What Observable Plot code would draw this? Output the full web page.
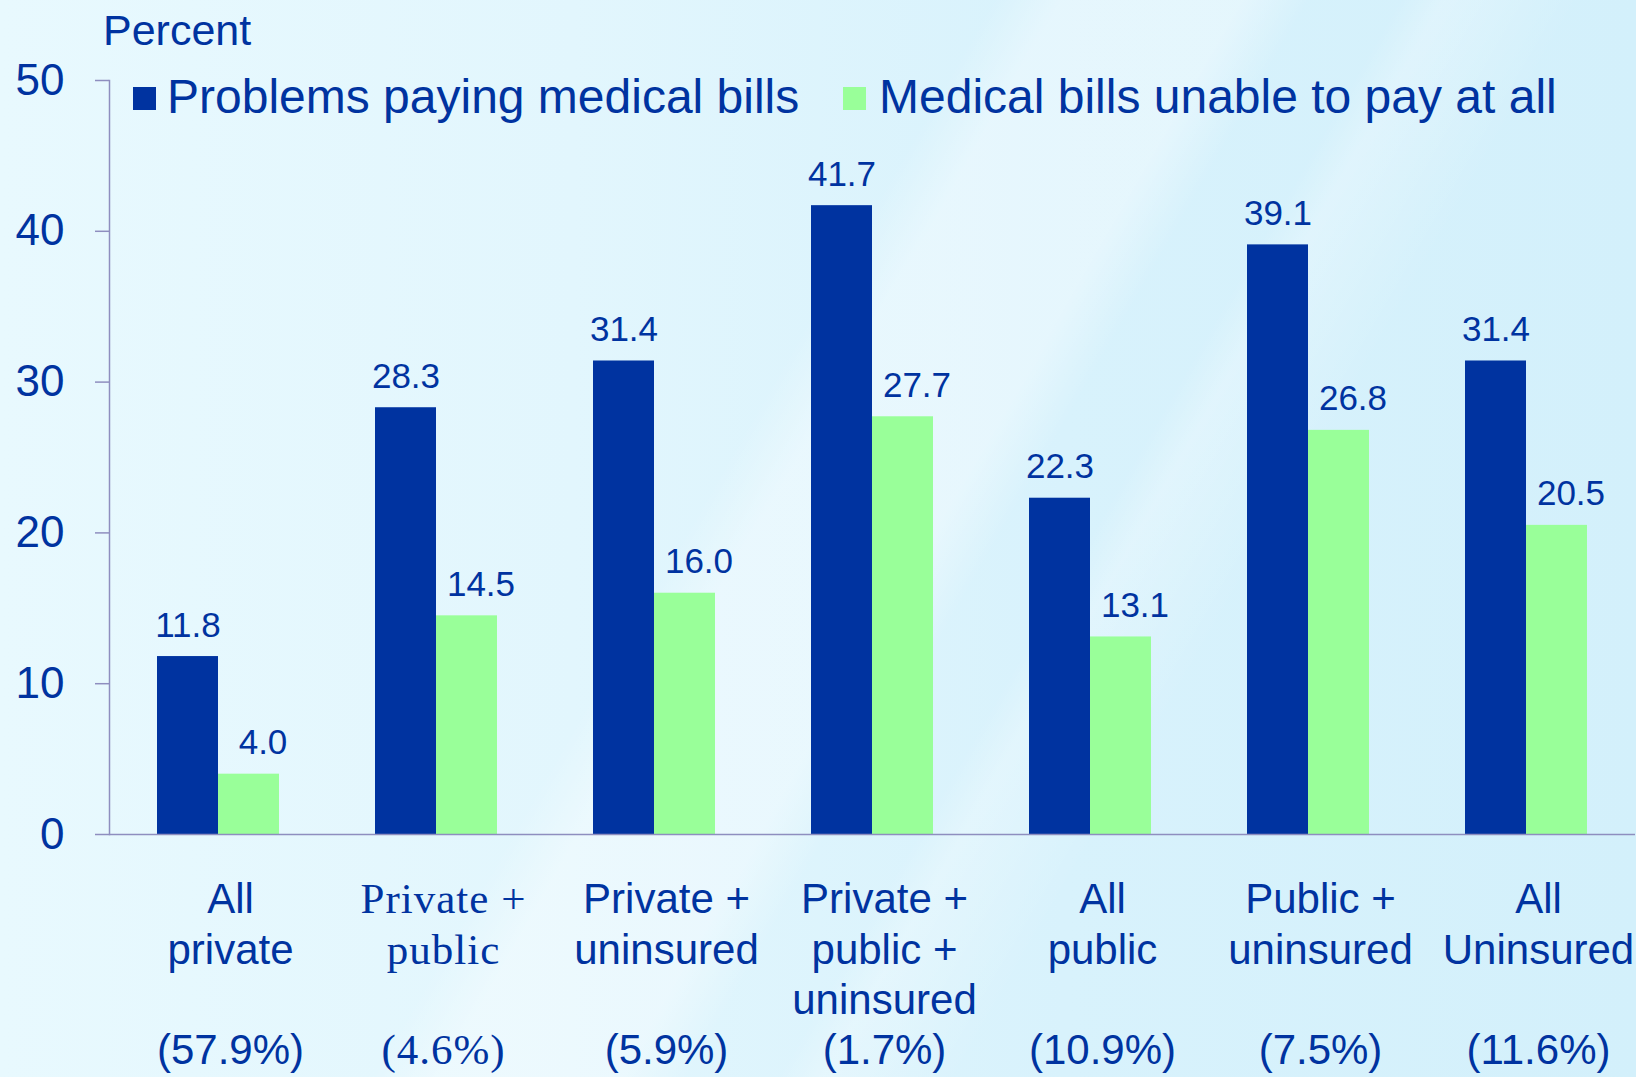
<!DOCTYPE html>
<html>
<head>
<meta charset="utf-8">
<script src="https://cdn.jsdelivr.net/npm/d3@7"></script>
<script src="https://cdn.jsdelivr.net/npm/@observablehq/plot@0.6"></script>
<style>
  html, body { margin: 0; padding: 0; }
  body {
    width: 1636px; height: 1077px; overflow: hidden; position: relative;
    font-family: "Liberation Sans", Arial, sans-serif;
    background:
      linear-gradient(120deg, rgba(255,255,255,0) 0%, rgba(255,255,255,0) 44%, rgba(255,255,255,0.35) 47%, rgba(255,255,255,0.35) 55%, rgba(255,255,255,0) 58%, rgba(255,255,255,0) 100%),
      linear-gradient(120deg, rgba(255,255,255,0) 0%, rgba(255,255,255,0) 62%, rgba(255,255,255,0.25) 64%, rgba(255,255,255,0) 70%, rgba(255,255,255,0) 100%),
      linear-gradient(90deg, #e8f9fe 0%, #e2f6fd 35%, #d8f2fc 65%, #d3f0fb 100%);
  }
  #chart { position: absolute; left: 0; top: 0; }
  .overlay { position: absolute; color: #0033a0; line-height: 1; white-space: nowrap; }
  #ylabel { left: 103px; top: 9px; font-size: 43px; }
  .swatch { position: absolute; width: 23px; height: 23px; }
  .legtext { font-size: 48px; }
  .serif-axis text { letter-spacing: 1px; }
</style>
</head>
<body>
<div id="chart"></div>
<div id="ylabel" class="overlay">Percent</div>
<div id="legend"></div>
<script>
// ---- data ----
const categories = [
  "All\nprivate",
  "Private +\npublic",
  "Private +\nuninsured",
  "Private +\npublic +\nuninsured",
  "All\npublic",
  "Public +\nuninsured",
  "All\nUninsured"
];
const populationShares = ["57.9%", "4.6%", "5.9%", "1.7%", "10.9%", "7.5%", "11.6%"];
const problemsPaying = [11.8, 28.3, 31.4, 41.7, 22.3, 39.1, 31.4];
const unableToPayAtAll = [4.0, 14.5, 16.0, 27.7, 13.1, 26.8, 20.5];
const seriesNames = ["Problems paying medical bills", "Medical bills unable to pay at all"];
const seriesColors = ["#0033a0", "#99ff99"];
const yTicks = [0, 10, 20, 30, 40, 50];
const serifCategories = ["Private +\npublic"];

// ---- table ----
const data = categories.flatMap((c, i) => [
  {category: c, series: seriesNames[0], value: problemsPaying[i]},
  {category: c, series: seriesNames[1], value: unableToPayAtAll[i]}
]);

const labelOf = c => {
  const lines = c.split("\n");
  while (lines.length < 3) lines.push("\u00a0");
  return [...lines, `(${populationShares[categories.indexOf(c)]})`].join("\n");
};

const textBlue = "#0033a0";
const axisGray = "#8e8ebf";

const valueLabel = (series, dx) => Plot.text(data.filter(d => d.series === series), {
  fx: "category", x: "series", y: "value",
  text: d => d.value.toFixed(1),
  lineAnchor: "bottom", dy: -20, dx,
  fontSize: 35, fill: textBlue
});

const chart = Plot.plot({
  width: 1636,
  height: 1077,
  marginLeft: 108,
  marginRight: 0,
  marginTop: 80,
  marginBottom: 243,
  style: {background: "transparent", color: textBlue, fontFamily: "'Liberation Sans', Arial, sans-serif", overflow: "visible"},
  fx: {domain: categories, paddingInner: 0, paddingOuter: 0, label: null, axis: null},
  x: {domain: seriesNames, paddingInner: 0, paddingOuter: 0.76, axis: null},
  y: {domain: [0, 50], label: null},
  color: {domain: seriesNames, range: seriesColors},
  marks: [
    Plot.frame({anchor: "left", facetAnchor: "left", stroke: axisGray, strokeWidth: 1.5}),
    Plot.barY(data, {fx: "category", x: "series", y: "value", fill: "series"}),
    Plot.ruleY([0], {stroke: axisGray, strokeWidth: 1.5}),
    valueLabel(seriesNames[0], 0),
    valueLabel(seriesNames[1], 14),
    Plot.axisY({
      ticks: yTicks, tickSize: 14, tickPadding: 31,
      fontSize: 44, stroke: axisGray, strokeWidth: 1.5, fill: textBlue, label: null
    }),
    Plot.axisFx({
      anchor: "bottom",
      ticks: categories.filter(c => !serifCategories.includes(c)),
      tickSize: 0, tickPadding: 43, fontSize: 42, lineHeight: 1.2, dx: 12,
      tickFormat: labelOf, fill: textBlue, label: null
    }),
    Plot.axisFx({
      anchor: "bottom", className: "serif-axis",
      ticks: serifCategories,
      tickSize: 0, tickPadding: 43, fontSize: 43, lineHeight: 1.17, dx: 7,
      fontFamily: "'Liberation Serif', 'Times New Roman', serif",
      tickFormat: labelOf, fill: textBlue, label: null
    })
  ]
});
document.getElementById("chart").appendChild(chart);

// ---- legend (HTML overlay) ----
const legend = document.getElementById("legend");
const legendPos = [{sw: 133, tx: 167}, {sw: 843, tx: 879}];
seriesNames.forEach((name, i) => {
  const sw = document.createElement("div");
  sw.className = "swatch";
  sw.style.left = legendPos[i].sw + "px";
  sw.style.top = "87px";
  sw.style.background = seriesColors[i];
  legend.appendChild(sw);
  const t = document.createElement("div");
  t.className = "overlay legtext";
  t.style.left = legendPos[i].tx + "px";
  t.style.top = "73px";
  t.textContent = name;
  legend.appendChild(t);
});
</script>
</body>
</html>
